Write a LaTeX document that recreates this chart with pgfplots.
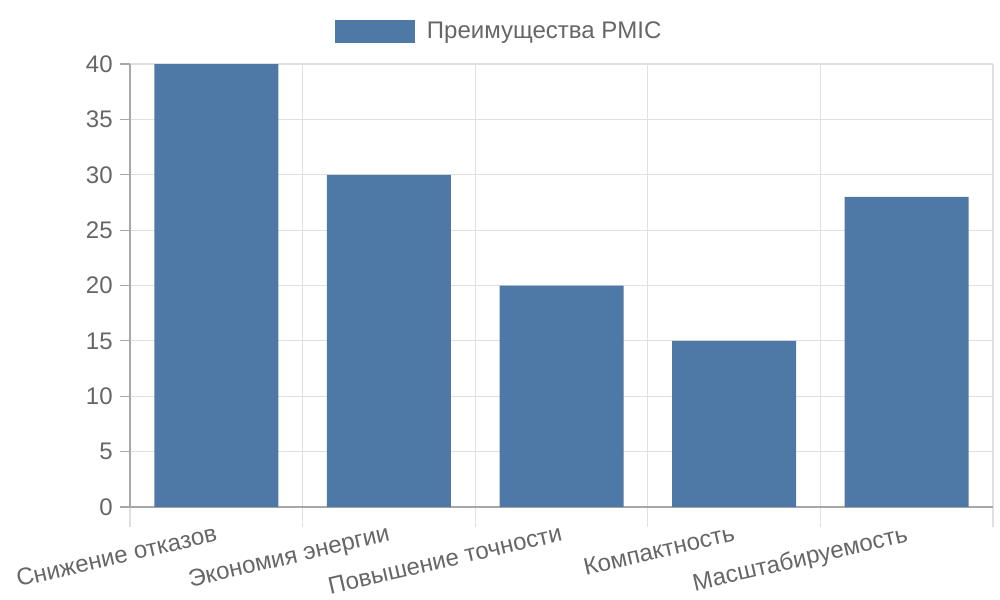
\documentclass[border=0pt]{standalone}
\usepackage{pgfplots}
\pgfplotsset{compat=1.18}
\usepackage{fontspec}
\setmainfont{Liberation Sans}
\definecolor{barblue}{HTML}{4E79A7}
\definecolor{txt}{HTML}{666666}
\definecolor{gridc}{HTML}{E0E0E0}
\definecolor{axc}{HTML}{A8A8A8}
\begin{document}
\begin{tikzpicture}
\useasboundingbox (-97.5pt,-69.75pt) rectangle (652.5pt,380.25pt);
\begin{axis}[
    at={(0pt,0pt)}, anchor=south west,
    scale only axis,
    width=647.25pt, height=332.25pt,
    xmin=-0.5, xmax=4.5, ymin=0, ymax=40,
    ybar, bar width=93pt,
    axis lines*=left,
    axis line style={axc, line width=0.9pt},
    xtick={0,1,2,3,4},
    xticklabels={Снижение отказов, Экономия энергии, Повышение точности, Компактность, Масштабируемость},
    major x tick style={draw=none},
    minor xtick={-0.5,0.5,1.5,2.5,3.5,4.5},
    minor x tick style={gridc, line width=0.9pt},
    minor tick length=15pt,
    xminorgrids,
    minor grid style={gridc, line width=0.9pt},
    ytick={0,5,...,40},
    ymajorgrids,
    major grid style={gridc, line width=0.9pt},
    y tick style={axc, line width=0.9pt},
    major tick length=7.5pt,
    tick align=outside,
    tick label style={font=\fontsize{18}{21}\selectfont, text=txt},
    /pgf/number format/assume math mode=true,
    yticklabel style={xshift=-2pt},
    xticklabel style={rotate=13, anchor=north east, inner sep=0pt, yshift=-5pt, xshift=-2.5pt},
    legend style={at={(0.5,1)}, anchor=center, xshift=-46.5pt, yshift=24.4pt,
        draw=none, font=\fontsize{18}{21}\selectfont, text=txt,
        legend cell align=left},
    legend image code/.code={\fill[barblue] (0pt,-8.6pt) rectangle (60pt,8.6pt); \path (67pt,0pt);},
    clip=false,
]
\addplot[fill=barblue, draw=none] coordinates {(0,40) (1,30) (2,20) (3,15) (4,28)};
\addlegendentry{Преимущества PMIC}
\end{axis}
\end{tikzpicture}
\end{document}
